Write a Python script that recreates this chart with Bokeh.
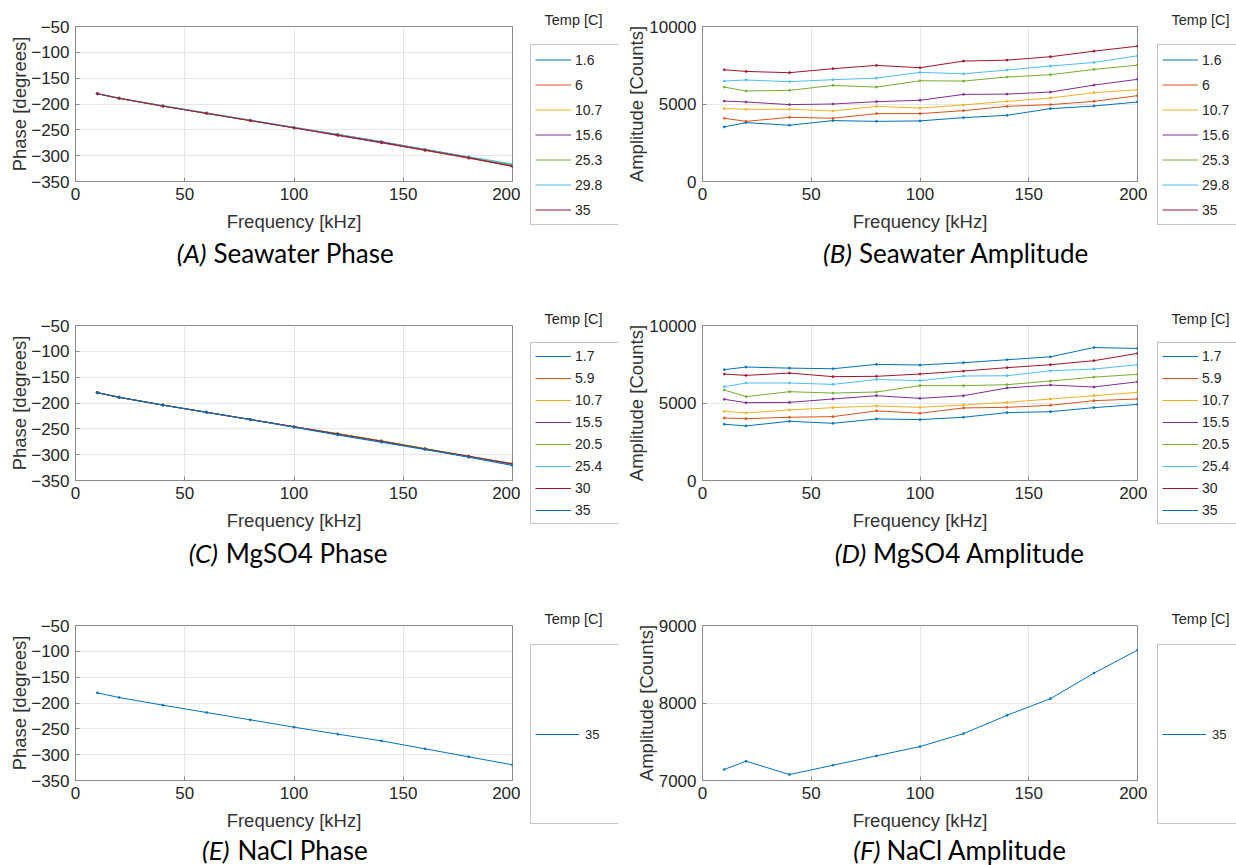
from bokeh.plotting import figure
from bokeh.models import Legend, LegendItem, Label, Range1d
from bokeh.layouts import column, row
from bokeh.embed import file_html
from bokeh.resources import INLINE

# ---------------- data ----------------
freq_khz = [10, 20, 40, 60, 80, 100, 120, 140, 160, 180, 200]
x_ticks = [0, 50, 100, 150, 200]
phase_ticks = [-350, -300, -250, -200, -150, -100, -50]
amp_ticks = [0, 5000, 10000]
nacl_amp_ticks = [7000, 8000, 9000]

# (A) Seawater phase [degrees]
sw_phase_1_6 = [-180, -189, -204, -218, -232, -246, -259, -273, -288, -303, -318]
sw_phase_6 = [-180, -189, -204, -218, -232, -246, -260, -275, -290, -305, -320]
sw_phase_10_7 = [-180, -189, -204, -218, -232, -246, -260, -274, -289, -304, -319]
sw_phase_15_6 = [-180, -189, -204, -218, -232, -246, -261, -275, -289, -304, -320]
sw_phase_25_3 = [-180, -189, -204, -218, -232, -245, -259, -273, -288, -303, -317]
sw_phase_29_8 = [-180, -189, -203, -217, -231, -245, -259, -273, -288, -302, -316]
sw_phase_35 = [-180, -189, -204, -218, -232, -246, -260, -274, -289, -304, -321]

# (B) Seawater amplitude [counts]
sw_amp_1_6 = [3520, 3800, 3630, 3930, 3880, 3910, 4120, 4270, 4700, 4870, 5130]
sw_amp_6 = [4080, 3880, 4140, 4080, 4380, 4380, 4570, 4850, 4960, 5170, 5540]
sw_amp_10_7 = [4700, 4660, 4660, 4550, 4850, 4740, 4940, 5170, 5390, 5730, 5920]
sw_amp_15_6 = [5190, 5130, 4960, 5000, 5150, 5240, 5620, 5640, 5770, 6220, 6590]
sw_amp_25_3 = [6090, 5840, 5880, 6200, 6090, 6500, 6480, 6740, 6890, 7230, 7510]
sw_amp_29_8 = [6480, 6550, 6440, 6570, 6670, 7040, 6950, 7190, 7450, 7680, 8110]
sw_amp_35 = [7210, 7100, 7020, 7280, 7490, 7340, 7770, 7830, 8050, 8410, 8730]

# (C) MgSO4 phase [degrees]
mg_phase_1_7 = [-180, -189, -204, -218, -232, -246, -260, -274, -289, -304, -319]
mg_phase_5_9 = [-180, -189, -204, -218, -232, -246, -260, -274, -289, -304, -318]
mg_phase_10_7 = [-180, -189, -204, -218, -232, -246, -260, -274, -289, -304, -319]
mg_phase_15_5 = [-180, -189, -204, -218, -232, -246, -260, -274, -289, -304, -319]
mg_phase_20_5 = [-180, -189, -204, -218, -232, -246, -259, -273, -288, -303, -317]
mg_phase_25_4 = [-180, -189, -204, -218, -232, -246, -261, -275, -290, -304, -320]
mg_phase_30 = [-180, -189, -204, -218, -232, -246, -260, -274, -289, -303, -318]
mg_phase_35 = [-180, -189, -204, -218, -232, -247, -262, -276, -290, -305, -321]

# (D) MgSO4 amplitude [counts]
mg_amp_1_7 = [3630, 3520, 3820, 3690, 3970, 3930, 4080, 4380, 4440, 4700, 4910]
mg_amp_5_9 = [4030, 3990, 4080, 4120, 4490, 4340, 4680, 4720, 4850, 5150, 5260]
mg_amp_10_7 = [4460, 4360, 4550, 4700, 4810, 4720, 4870, 5040, 5260, 5470, 5690]
mg_amp_15_5 = [5240, 5020, 5040, 5260, 5470, 5300, 5470, 5970, 6160, 6030, 6370]
mg_amp_20_5 = [5840, 5410, 5730, 5640, 5710, 6120, 6120, 6180, 6420, 6670, 6850]
mg_amp_25_4 = [6050, 6290, 6290, 6200, 6520, 6440, 6740, 6760, 7080, 7190, 7470]
mg_amp_30 = [6870, 6780, 6930, 6700, 6720, 6870, 7060, 7280, 7470, 7730, 8200]
mg_amp_35 = [7150, 7320, 7250, 7210, 7490, 7450, 7600, 7790, 7980, 8580, 8520]

# (E) NaCl phase and (F) NaCl amplitude
nacl_phase_35 = [-180.3, -189.4, -204.2, -218.4, -232.6, -246.8, -260.3, -273.2, -288.7, -304.2, -319.7]
nacl_amp_35 = [7142, 7249, 7077, 7197, 7318, 7438, 7605, 7841, 8056, 8386, 8682]

sw_temps = ["1.6", "6", "10.7", "15.6", "25.3", "29.8", "35"]
mg_temps = ["1.7", "5.9", "10.7", "15.5", "20.5", "25.4", "30", "35"]
nacl_temps = ["35"]

matlab_colors = ["#0072BD", "#D95319", "#EDB120", "#7E2F8E", "#77AC30", "#4DBEEE", "#A2142F", "#0072BD"]

x_label = "Frequency [kHz]"
phase_label = "Phase [degrees]"
amp_label = "Amplitude [Counts]"
legend_title = "Temp [C]"

# ---------------- styling ----------------
TICK_FONT = "Liberation Sans"
CAP_FONT = "Lato"
TEXT_COL = "#262626"
AXIS_COL = "#8a8a8a"
GRID_COL = "#e6e6e6"


def blank_fig(width, height):
    f = figure(width=width, height=height, x_range=Range1d(0, width), y_range=Range1d(0, height),
               x_axis_type=None, y_axis_type=None, min_border=0,
               min_border_left=0, min_border_right=0, min_border_top=0, min_border_bottom=0,
               output_backend="svg", toolbar_location=None, tools="")
    f.outline_line_color = None
    f.background_fill_color = "white"
    f.border_fill_color = "white"
    try:
        f.frame_align = False
    except Exception:
        pass
    return f


def make_panel(is_left, plot_h, cap_h, cap_y, y_range, y_ticks, y_label, series, labels,
               legend_cfg, tag, caption, tag_x, cap_x, ylab_standoff):
    if is_left:
        pw, left, right, lw_fig = 520, 75, 8, 98
    else:
        pw, left, right, lw_fig = 529, 84, 10, 89

    p = figure(width=pw, height=plot_h,
               min_border_left=left, min_border_right=right,
               min_border_top=26, min_border_bottom=plot_h - 26 - 155,
               x_range=Range1d(0, 200), y_range=Range1d(*y_range),
               output_backend="svg", toolbar_location=None, tools="")
    p.background_fill_color = "white"
    p.border_fill_color = "white"
    p.outline_line_color = AXIS_COL
    p.outline_line_width = 1

    p.xaxis.ticker = x_ticks
    p.yaxis.ticker = y_ticks
    for ax in (p.xaxis[0], p.yaxis[0]):
        ax.axis_line_color = AXIS_COL
        ax.major_tick_line_color = AXIS_COL
        ax.minor_tick_line_color = None
        ax.major_tick_in = 4
        ax.major_tick_out = 0
        ax.major_label_text_font = TICK_FONT
        ax.major_label_text_font_size = "17px"
        ax.major_label_text_color = TEXT_COL
        ax.axis_label_text_font = TICK_FONT
        ax.axis_label_text_font_size = "18.5px"
        ax.axis_label_text_font_style = "normal"
        ax.axis_label_text_color = "#333333"
        ax.major_label_standoff = 6
    p.xaxis.axis_label_standoff = 8
    p.yaxis.axis_label_standoff = ylab_standoff
    p.xaxis.axis_label = x_label
    p.yaxis.axis_label = y_label
    p.xgrid.grid_line_color = GRID_COL
    p.ygrid.grid_line_color = GRID_COL

    # legend figure (to the right of the axes)
    lf = blank_fig(lw_fig, plot_h)
    items = []
    for ys, lab, col in zip(series, labels, matlab_colors):
        p.line(freq_khz, ys, line_color=col, line_width=1)
        p.scatter(freq_khz, ys, marker="circle", size=2.2, fill_color=col, line_color=col,
                  line_width=0.5)
        proxy = lf.line(freq_khz, ys, line_color=col, line_width=1, visible=False)
        items.append(LegendItem(label=lab, renderers=[proxy]))

    gh, sp, gw, so, lw, fs = legend_cfg
    leg = Legend(items=items, location=(10, plot_h - 225), orientation="vertical",
                 border_line_color=AXIS_COL, border_line_width=1,
                 background_fill_color="white", background_fill_alpha=1.0,
                 padding=4, spacing=sp, margin=0,
                 glyph_width=gw, glyph_height=gh, label_height=gh,
                 label_standoff=so, label_width=lw,
                 label_text_font=TICK_FONT, label_text_font_size=fs,
                 label_text_color=TEXT_COL)
    lf.add_layout(leg)
    lf.add_layout(Label(x=53, y=plot_h - 19.3, text=legend_title,
                        text_align="center", text_baseline="middle",
                        text_font=TICK_FONT, text_font_size="14.5px", text_color=TEXT_COL))

    # caption figure (below)
    cf = blank_fig(618, cap_h)
    cf.add_layout(Label(x=tag_x, y=cap_y, text=tag, text_align="right", text_baseline="middle",
                        text_font=CAP_FONT, text_font_size="26px", text_font_style="italic",
                        text_color="black"))
    cf.add_layout(Label(x=cap_x, y=cap_y, text=caption, text_align="left", text_baseline="middle",
                        text_font=CAP_FONT, text_font_size="26px", text_font_style="normal",
                        text_color="black"))
    return column(row(p, column(lf, spacing=0), spacing=0), cf, spacing=0)


cfg7 = (21, 4, 36, 4, 40, "14px")
cfg8 = (18, 4, 36, 4, 40, "14px")
cfg1 = (170, 0, 44, 6, 30, "13px")

pA = make_panel(True, 236, 63, 47, (-350, -50), phase_ticks, phase_label,
                [sw_phase_1_6, sw_phase_6, sw_phase_10_7, sw_phase_15_6, sw_phase_25_3, sw_phase_29_8, sw_phase_35],
                sw_temps, cfg7, "(A)", "Seawater Phase", 206, 213, -2)
pB = make_panel(False, 236, 63, 47, (0, 10000), amp_ticks, amp_label,
                [sw_amp_1_6, sw_amp_6, sw_amp_10_7, sw_amp_15_6, sw_amp_25_3, sw_amp_29_8, sw_amp_35],
                sw_temps, cfg7, "(B)", "Seawater Amplitude", 233.5, 240.4, -1)
pC = make_panel(True, 237, 63, 47, (-350, -50), phase_ticks, phase_label,
                [mg_phase_1_7, mg_phase_5_9, mg_phase_10_7, mg_phase_15_5, mg_phase_20_5, mg_phase_25_4, mg_phase_30, mg_phase_35],
                mg_temps, cfg8, "(C)", "MgSO4 Phase", 217.4, 225.3, -2)
pD = make_panel(False, 237, 63, 47, (0, 10000), amp_ticks, amp_label,
                [mg_amp_1_7, mg_amp_5_9, mg_amp_10_7, mg_amp_15_5, mg_amp_20_5, mg_amp_25_4, mg_amp_30, mg_amp_35],
                mg_temps, cfg8, "(D)", "MgSO4 Amplitude", 247.7, 254.6, -1)
pE = make_panel(True, 236, 30, 16, (-350, -50), phase_ticks, phase_label,
                [nacl_phase_35], nacl_temps, cfg1, "(E)", "NaCl Phase", 229, 237, -2)
pF = make_panel(False, 236, 30, 16, (7000, 9000), nacl_amp_ticks, amp_label,
                [nacl_amp_35], nacl_temps, cfg1, "(F)", "NaCl Amplitude", 262, 268, -1)

layout = column(row(pA, pB, spacing=0), row(pC, pD, spacing=0), row(pE, pF, spacing=0), spacing=0)

with open("out.html", "w") as f:
    f.write(file_html(layout, INLINE))
